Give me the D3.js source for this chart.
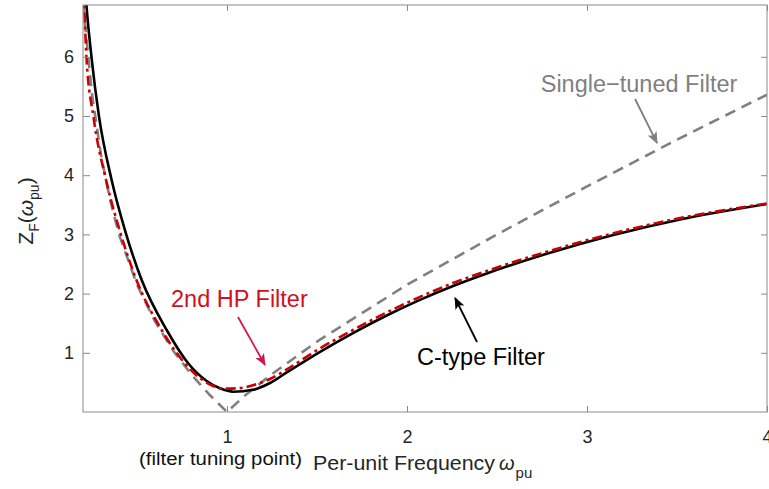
<!DOCTYPE html>
<html>
<head>
<meta charset="utf-8">
<script src="https://cdn.jsdelivr.net/npm/d3@7"></script>
<style>
  body { margin: 0; background: #fff; }
  text { font-family: Arial, "Liberation Sans", Helvetica, sans-serif; }
</style>
</head>
<body>
<div id="chart"></div>
<script>
// Single-tuned filter (grey dashed)
const freqST = [0.2, 0.25, 0.3, 0.35, 0.4, 0.5, 0.6, 0.7, 0.8, 0.9, 1.0, 1.1, 1.25, 1.5, 2.0, 2.5, 3.0, 3.5, 4.0];
const zST = [6.9, 5.37, 4.34, 3.59, 3.0, 2.15, 1.53, 1.04, 0.64, 0.30, 0.0, 0.28, 0.64, 1.19, 2.15, 3.0, 3.81, 4.6, 5.36];

// C-type filter (black solid)
const freqCT = [0.21, 0.219, 0.247, 0.289, 0.359, 0.433, 0.526, 0.665, 0.783, 0.887, 0.961, 1.035, 1.144, 1.239, 1.332,
  1.517, 1.70, 1.887, 2.072, 2.256, 2.443, 2.776, 3.146, 3.517, 4.0];
const zCT = [7.25, 6.875, 6.0, 4.99, 3.92, 3.074, 2.23, 1.385, 0.828, 0.524, 0.40, 0.343, 0.375, 0.49, 0.669,
  1.017, 1.334, 1.63, 1.894, 2.128, 2.34, 2.672, 2.99, 3.253, 3.514];

// 2nd order high-pass filter (red dash-dot)
const freqHP = [0.2, 0.206, 0.219, 0.258, 0.328, 0.403, 0.497, 0.637, 0.764, 0.864, 0.917, 0.972, 1.056, 1.144, 1.239,
  1.332, 1.517, 1.70, 1.887, 2.072, 2.256, 2.443, 2.776, 3.146, 3.517, 4.0];
const zHP = [7.1, 6.875, 6.0, 4.99, 3.92, 3.074, 2.23, 1.385, 0.828, 0.541, 0.448, 0.394, 0.40, 0.451, 0.557,
  0.72, 1.076, 1.385, 1.681, 1.944, 2.179, 2.382, 2.706, 3.019, 3.275, 3.522];

const xTicks = [1, 2, 3, 4];
const yTicks = [1, 2, 3, 4, 5, 6];

// Text notes in data units: label position, arrow start, arrow tip
const notes = [
  {text: 'Single\u2212tuned Filter', color: '#7f7f7f', arrow: '#7f7f7f', x: 3.289, y: 5.405, from: [3.267, 5.287], to: [3.389, 4.544]},
  {text: '2nd HP Filter', color: '#d0101c', arrow: '#d2164a', x: 1.069, y: 1.774, from: [1.061, 1.605], to: [1.211, 0.794]},
  {text: 'C-type Filter', color: '#000000', arrow: '#000000', x: 2.411, y: 0.794, from: [2.389, 1.182], to: [2.267, 1.926]}
];

const width = 769;
const height = 489;
const plot = {left: 83, right: 767, top: 5, bottom: 412};
const axisColor = '#8a8a8a';
const labelColor = '#262626';

const svg = d3.select('#chart')
  .append('svg')
  .attr('width', width)
  .attr('height', height)
  .style('display', 'block');

const x = d3.scaleLinear().domain([0.2, 4]).range([plot.left, plot.right]);
const y = d3.scaleLinear().domain([0, 6.875]).range([plot.bottom, plot.top]);

svg.append('clipPath')
  .attr('id', 'plot-clip')
  .append('rect')
  .attr('x', plot.left)
  .attr('y', plot.top)
  .attr('width', plot.right - plot.left)
  .attr('height', plot.bottom - plot.top);

/**
 * Draws the box with inward ticks on all four sides
 */
function drawAxes() {
  const fmt = d3.format('d');
  const bottom = svg.append('g')
    .attr('transform', `translate(0, ${plot.bottom})`)
    .call(d3.axisBottom(x).tickValues(xTicks).tickFormat(fmt).tickSizeInner(-6).tickSizeOuter(0).tickPadding(18));
  const left = svg.append('g')
    .attr('transform', `translate(${plot.left}, 0)`)
    .call(d3.axisLeft(y).tickValues(yTicks).tickFormat(fmt).tickSizeInner(-7).tickSizeOuter(0).tickPadding(9));
  const top = svg.append('g')
    .attr('transform', `translate(0, ${plot.top})`)
    .call(d3.axisTop(x).tickValues(xTicks).tickSizeInner(-6).tickSizeOuter(0).tickFormat(''));
  const right = svg.append('g')
    .attr('transform', `translate(${plot.right}, 0)`)
    .call(d3.axisRight(y).tickValues(yTicks).tickSizeInner(-6).tickSizeOuter(0).tickFormat(''));

  [bottom, left, top, right].forEach(g => {
    g.select('.domain').remove();
    g.selectAll('line').attr('stroke', axisColor);
    g.selectAll('text')
      .attr('fill', labelColor)
      .style('font-size', '18px')
      .style('font-family', 'Arial, "Liberation Sans", sans-serif');
  });

  svg.append('rect')
    .attr('x', plot.left)
    .attr('y', plot.top)
    .attr('width', plot.right - plot.left)
    .attr('height', plot.bottom - plot.top)
    .attr('fill', 'none')
    .attr('stroke', axisColor)
    .attr('stroke-width', 1);
}

/**
 * Adds one impedance curve
 */
function drawCurve(freq, z, color, dash, curve) {
  const line = d3.line()
    .x(d => x(d[0]))
    .y(d => y(d[1]))
    .curve(curve);
  svg.append('path')
    .datum(d3.zip(freq, z))
    .attr('clip-path', 'url(#plot-clip)')
    .attr('d', line)
    .attr('fill', 'none')
    .attr('stroke', color)
    .attr('stroke-width', 2.6)
    .attr('stroke-dasharray', dash)
    .attr('stroke-linejoin', 'round');
}

/**
 * Axis titles
 */
function drawLabels() {
  svg.append('text')
    .attr('x', x(1) - 6.5)
    .attr('y', 465)
    .attr('text-anchor', 'middle')
    .attr('fill', '#111')
    .attr('textLength', 163)
    .attr('lengthAdjust', 'spacingAndGlyphs')
    .style('font-size', '18px')
    .text('(filter tuning point)');

  const xl = svg.append('text')
    .attr('x', 313)
    .attr('y', 470)
    .attr('fill', labelColor)
    .style('font-size', '20px');
  xl.append('tspan').attr('textLength', 182).attr('lengthAdjust', 'spacingAndGlyphs').text('Per-unit Frequency');
  xl.append('tspan').attr('dx', 4).style('font-style', 'italic').text('\u03c9');
  xl.append('tspan').attr('dx', 1).attr('dy', 8).style('font-size', '15px').text('pu');

  const yl = svg.append('text')
    .attr('transform', 'translate(33, 211) rotate(-90)')
    .attr('text-anchor', 'middle')
    .attr('fill', labelColor)
    .style('font-size', '21px');
  yl.append('tspan').text('Z');
  yl.append('tspan').attr('dy', 6).style('font-size', '14px').text('F');
  yl.append('tspan').attr('dy', -6).text('(');
  yl.append('tspan').style('font-style', 'italic').text('\u03c9');
  yl.append('tspan').attr('dy', 6).style('font-size', '14px').text('pu');
  yl.append('tspan').attr('dy', -6).text(')');
}

/**
 * Curve names with arrows
 */
function drawNotes() {
  const defs = svg.append('defs');
  notes.forEach((n, i) => {
    defs.append('marker')
      .attr('id', `head-${i}`)
      .attr('viewBox', '0 0 12 10')
      .attr('refX', 11)
      .attr('refY', 5)
      .attr('markerUnits', 'userSpaceOnUse')
      .attr('markerWidth', 12)
      .attr('markerHeight', 10)
      .attr('orient', 'auto')
      .append('path')
      .attr('d', 'M0,0 L12,5 L0,10 L3,5 Z')
      .attr('fill', n.arrow);

    svg.append('line')
      .attr('x1', x(n.from[0]))
      .attr('y1', y(n.from[1]))
      .attr('x2', x(n.to[0]))
      .attr('y2', y(n.to[1]))
      .attr('stroke', n.arrow)
      .attr('stroke-width', 1.8)
      .attr('marker-end', `url(#head-${i})`);

    svg.append('text')
      .attr('x', x(n.x))
      .attr('y', y(n.y))
      .attr('text-anchor', 'middle')
      .attr('fill', n.color)
      .style('font-size', '23.5px')
      .text(n.text);
  });
}

drawCurve(freqST, zST, '#808080', '11,7', d3.curveLinear);
drawCurve(freqCT, zCT, '#000000', null, d3.curveMonotoneX);
drawCurve(freqHP, zHP, '#cc0000', '10,4,3,4', d3.curveMonotoneX);
drawAxes();
drawLabels();
drawNotes();
</script>
</body>
</html>
